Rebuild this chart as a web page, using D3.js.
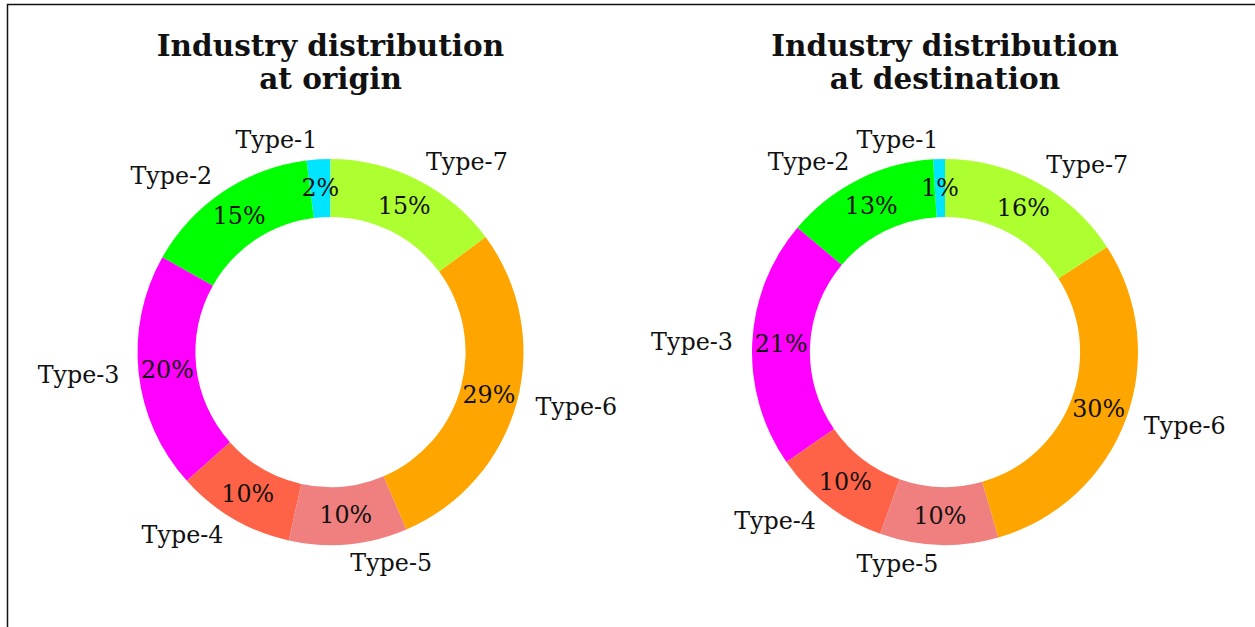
<!DOCTYPE html>
<html>
<head>
<meta charset="utf-8">
<script src="https://cdn.jsdelivr.net/npm/d3@7"></script>
<style>
  html, body { margin: 0; padding: 0; background: #fff; }
  svg { display: block; }
</style>
</head>
<body>
<svg id="chart" width="1255" height="627"></svg>
<script>
// Industry categories and their shares (percent) at origin and destination
const categories = ["Type-1", "Type-2", "Type-3", "Type-4", "Type-5", "Type-6", "Type-7"];
const originShares = [2, 15, 20, 10, 10, 29, 15];
const destinationShares = [1, 13, 21, 10, 10, 30, 16];
const sliceColors = ["#00e5ff", "#00ff00", "#ff00ff", "#ff6347", "#f08080", "#ffa500", "#adff2f"];
const panelTitles = [
  ["Industry distribution", "at origin"],
  ["Industry distribution", "at destination"]
];

const svg = d3.select("#chart");
const W = 1255, H = 627;

svg.append("rect").attr("width", W).attr("height", H).attr("fill", "#fff");

// frame edges (top and left)
svg.append("path")
  .attr("d", `M7.5,${H} L7.5,4.5 L${W},4.5`)
  .attr("fill", "none")
  .attr("stroke", "#111")
  .attr("stroke-width", 1.5);

const outerR = 193;
const innerR = outerR * 0.7;
const labelR = outerR * 1.1;
const pctR = outerR * 0.85;
const centerY = 352;
const centersX = [330.5, 945];
const labelFont = 23.8;
const titleFont = 29.5;

const color = d3.scaleOrdinal().domain(categories).range(sliceColors);

// slices run counter-clockwise starting at 12 o'clock
const pie = d3.pie()
  .sort(null)
  .value(d => d.value)
  .startAngle(0)
  .endAngle(-2 * Math.PI);

const arc = d3.arc().innerRadius(innerR).outerRadius(outerR);

function drawDonut(cx, shares, titleLines) {
  const g = svg.append("g").attr("transform", `translate(${cx},${centerY})`);
  const data = categories.map((c, i) => ({ name: c, value: shares[i] }));
  const arcs = pie(data);

  g.selectAll("path.slice")
    .data(arcs)
    .join("path")
    .attr("class", "slice")
    .attr("d", arc)
    .attr("fill", d => color(d.data.name));

  const mid = d => (d.startAngle + d.endAngle) / 2;

  // category labels outside the ring
  g.selectAll("text.cat")
    .data(arcs)
    .join("text")
    .attr("class", "cat")
    .attr("x", d => Math.sin(mid(d)) * labelR)
    .attr("y", d => -Math.cos(mid(d)) * labelR)
    .attr("text-anchor", d => Math.sin(mid(d)) > 0 ? "start" : "end")
    .attr("dominant-baseline", "central")
    .attr("font-family", "'DejaVu Serif', serif")
    .attr("font-size", labelFont)
    .attr("fill", "#111")
    .text(d => d.data.name);

  // percentage labels on the ring
  g.selectAll("text.pct")
    .data(arcs)
    .join("text")
    .attr("class", "pct")
    .attr("x", d => Math.sin(mid(d)) * pctR)
    .attr("y", d => -Math.cos(mid(d)) * pctR)
    .attr("text-anchor", "middle")
    .attr("dominant-baseline", "central")
    .attr("font-family", "'DejaVu Serif', serif")
    .attr("font-size", labelFont)
    .attr("fill", "#111")
    .text(d => d3.format(".0f")(d.data.value) + "%");

  // two-line bold title
  const t = svg.append("text")
    .attr("x", cx)
    .attr("y", 55.5)
    .attr("text-anchor", "middle")
    .attr("font-family", "'DejaVu Serif', serif")
    .attr("font-weight", "bold")
    .attr("font-size", titleFont)
    .attr("fill", "#111");
  titleLines.forEach((line, i) => {
    t.append("tspan").attr("x", cx).attr("dy", i === 0 ? 0 : 33).text(line);
  });
}

drawDonut(centersX[0], originShares, panelTitles[0]);
drawDonut(centersX[1], destinationShares, panelTitles[1]);
</script>
</body>
</html>
